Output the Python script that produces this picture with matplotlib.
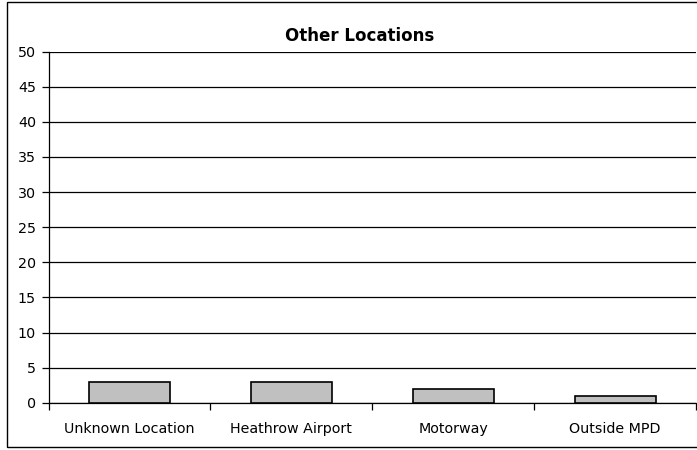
import matplotlib
matplotlib.use("Agg")
import matplotlib.pyplot as plt
from matplotlib.patches import Rectangle

categories = ["Unknown Location", "Heathrow Airport", "Motorway", "Outside MPD"]
values = [3, 3, 2, 1]
yticks = [0, 5, 10, 15, 20, 25, 30, 35, 40, 45, 50]

W, H = 697, 450
fig = plt.figure(figsize=(W / 100, H / 100), dpi=100)
fig.patch.set_facecolor("white")

# outer chart border
fig.patches.append(Rectangle((7 / W, 3 / H), 1.0, 1 - 5 / H, transform=fig.transFigure,
                             fill=False, edgecolor="black", linewidth=1.0, zorder=0))

left, right = 48.5 / W, 696 / W
bottom, top = 1 - 402.7 / H, 1 - 51.7 / H
ax = fig.add_axes([left, bottom, right - left, top - bottom])

x = list(range(len(categories)))
ax.bar(x, values, width=0.5, color="#C0C0C0", edgecolor="black", linewidth=1.2, zorder=3)

ax.set_xlim(-0.5, len(categories) - 0.5)
ax.set_ylim(0, 50)
ax.set_yticks(yticks)
ax.set_yticklabels([str(v) for v in yticks], fontsize=10.3)
ax.yaxis.grid(True, color="black", linewidth=0.9, zorder=0)
ax.set_axisbelow(True)

ax.set_xticks([i + 0.5 for i in range(-1, len(categories))])
ax.set_xticklabels([])
ax.set_xticks(x, minor=True)
ax.set_xticklabels(categories, minor=True, fontsize=10.3)
ax.tick_params(axis="x", which="major", direction="out", length=5, width=0.9, color="black")
ax.tick_params(axis="x", which="minor", length=0, pad=14)
ax.tick_params(axis="y", direction="out", length=5, width=0.9, pad=4)

for s in ["top", "right"]:
    ax.spines[s].set_visible(False)
ax.spines["left"].set_linewidth(0.9)
ax.spines["bottom"].set_linewidth(0.9)

fig.text(360 / W, 1 - 36 / H, "Other Locations", ha="center", va="center",
         fontsize=12, fontweight="bold")

fig.savefig("out.png", dpi=100)
